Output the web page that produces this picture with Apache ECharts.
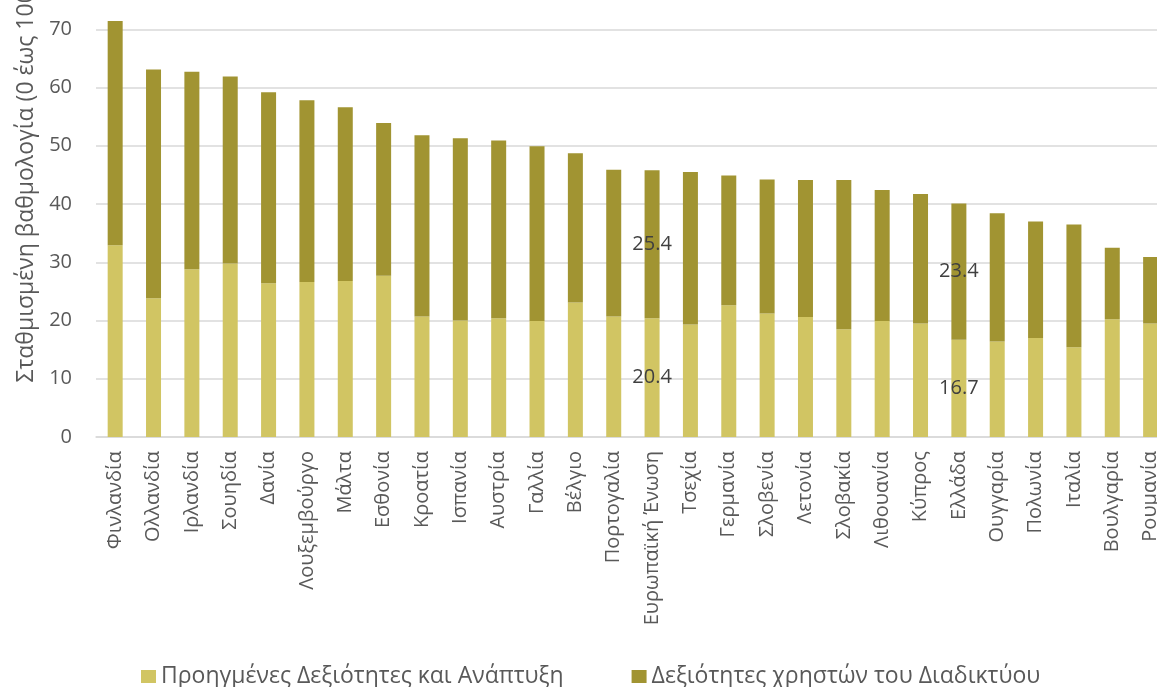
<!DOCTYPE html>
<html>
<head>
<meta charset="utf-8">
<script src="https://cdn.jsdelivr.net/npm/echarts@6/dist/echarts.min.js"></script>
<style>
  html, body { margin: 0; padding: 0; background: #fff; }
  #chart { width: 1157px; height: 687px; }
</style>
</head>
<body>
<div id="chart"></div>
<script>
// --- données --- //
const countries = ['Φινλανδία', 'Ολλανδία', 'Ιρλανδία', 'Σουηδία', 'Δανία', 'Λουξεμβούργο', 'Μάλτα',
  'Εσθονία', 'Κροατία', 'Ισπανία', 'Αυστρία', 'Γαλλία', 'Βέλγιο', 'Πορτογαλία', 'Ευρωπαϊκή Ένωση',
  'Τσεχία', 'Γερμανία', 'Σλοβενία', 'Λετονία', 'Σλοβακία', 'Λιθουανία', 'Κύπρος', 'Ελλάδα',
  'Ουγγαρία', 'Πολωνία', 'Ιταλία', 'Βουλγαρία', 'Ρουμανία'];

const advancedSkills = [32.9, 23.8, 28.8, 29.8, 26.4, 26.6, 26.8, 27.7, 20.7, 20.0, 20.4, 19.9, 23.1, 20.7,
  20.4, 19.3, 22.6, 21.2, 20.6, 18.5, 19.9, 19.5, 16.7, 16.4, 17.0, 15.4, 20.2, 19.5];

const userSkills = [38.5, 39.3, 33.9, 32.1, 32.8, 31.2, 29.8, 26.2, 31.1, 31.3, 30.5, 30.0, 25.6, 25.2,
  25.4, 26.2, 22.3, 23.0, 23.5, 25.6, 22.5, 22.2, 23.4, 22.0, 20.0, 21.1, 12.3, 11.4];

const seriesNames = ['Προηγμένες Δεξιότητες και Ανάπτυξη', 'Δεξιότητες χρηστών του Διαδικτύου'];
const labelled = ['Ευρωπαϊκή Ένωση', 'Ελλάδα'];
const yTicks = [0, 10, 20, 30, 40, 50, 60, 70, 80];

const font = '"Open Sans", "Noto Sans", sans-serif';

// --- seules l'UE et la Grèce portent une étiquette --- //
function withLabels(values) {
  return values.map((v, i) => labelled.includes(countries[i])
    ? { value: v, label: { show: true } }
    : v);
}

const barLabel = {
  show: false,
  position: 'inside',
  color: '#404040',
  fontFamily: font,
  fontSize: 20
};

let option = {
  animation: false,
  textStyle: { fontFamily: font },
  grid: {
    outerBoundsMode: 'none',
    left: 96,
    top: -29,
    width: 28 * 38.35,
    bottom: 250,
    containLabel: false
  },
  legend: {
    left: 136,
    top: 660,
    itemWidth: 15,
    itemHeight: 13,
    itemGap: 68,
    icon: 'rect',
    textStyle: { color: '#595959', fontSize: 23, fontFamily: font },
    data: seriesNames
  },
  xAxis: {
    type: 'category',
    data: countries,
    axisLine: { lineStyle: { color: '#d9d9d9', width: 1.5 } },
    axisTick: { show: false },
    axisLabel: {
      rotate: 90,
      interval: 0,
      margin: 14,
      color: '#595959',
      fontSize: 20,
      fontFamily: font
    }
  },
  yAxis: {
    type: 'value',
    min: yTicks[0],
    max: yTicks[yTicks.length - 1],
    interval: 10,
    name: 'Σταθμισμένη βαθμολογία (0 έως 100)',
    nameLocation: 'middle',
    nameGap: 56,
    nameTextStyle: { color: '#595959', fontSize: 23, fontFamily: font, padding: [0, 0, 0, 42] },
    axisLine: { show: false },
    axisTick: { show: false },
    splitLine: { lineStyle: { color: '#d9d9d9', width: 1.5 } },
    axisLabel: { color: '#595959', fontSize: 20, margin: 24, fontFamily: font }
  },
  series: [
    {
      name: seriesNames[0],
      type: 'bar',
      stack: 'total',
      barWidth: 15,
      itemStyle: { color: '#D1C563' },
      label: barLabel,
      data: withLabels(advancedSkills)
    },
    {
      name: seriesNames[1],
      type: 'bar',
      stack: 'total',
      barWidth: 15,
      itemStyle: { color: '#A19432' },
      label: barLabel,
      data: withLabels(userSkills)
    }
  ]
};

const chart = echarts.init(document.getElementById('chart'));
chart.setOption(option);
</script>
</body>
</html>
